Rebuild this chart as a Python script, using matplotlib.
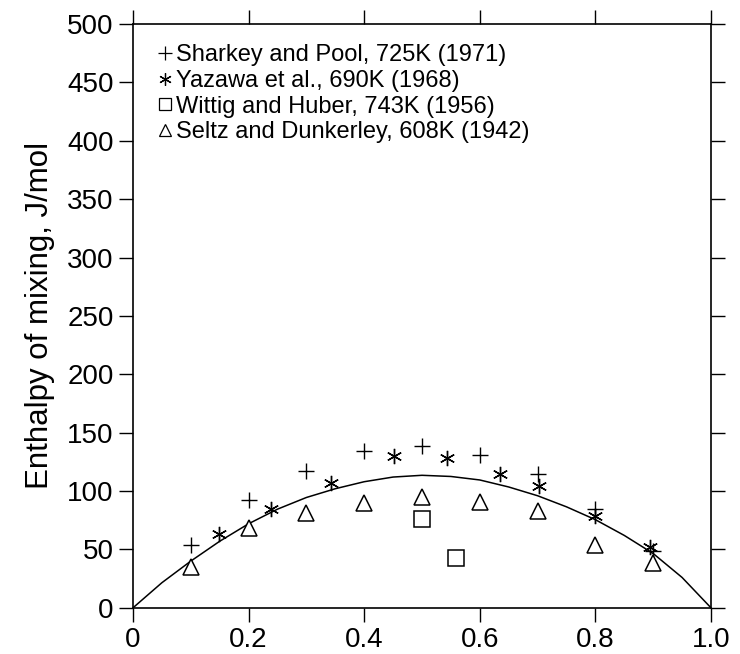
import matplotlib
matplotlib.use("Agg")
import matplotlib.pyplot as plt
from matplotlib.lines import Line2D

plt.rcParams['font.family'] = ['Liberation Sans', 'DejaVu Sans']

# Sharkey and Pool, 725K (1971)
sharkey_x = [0.10, 0.20, 0.30, 0.40, 0.50, 0.60, 0.70, 0.80, 0.90]
sharkey_y = [54, 92, 117, 134, 139, 131, 115, 85, 49]
# Yazawa et al., 690K (1968)
yazawa_x = [0.148, 0.238, 0.342, 0.452, 0.543, 0.635, 0.703, 0.80, 0.894]
yazawa_y = [63, 85, 107, 130, 128, 115, 104, 79, 52]
# Wittig and Huber, 743K (1956)
wittig_x = [0.50, 0.559]
wittig_y = [76, 43]
# Seltz and Dunkerley, 608K (1942)
seltz_x = [0.10, 0.20, 0.30, 0.40, 0.50, 0.60, 0.70, 0.80, 0.90]
seltz_y = [35, 68, 81, 90, 95, 91, 83, 54, 38]
# smooth curve
curve_x = [0.00, 0.05, 0.10, 0.15, 0.20, 0.25, 0.30, 0.35, 0.40, 0.45, 0.50,
           0.55, 0.60, 0.65, 0.70, 0.75, 0.80, 0.85, 0.90, 0.95, 1.00]
curve_y = [0, 21.5, 40, 57, 72, 84.5, 94.5, 102, 108, 112, 113.5,
           112.5, 109.5, 103.5, 96, 86.5, 75.5, 62, 46.5, 26, 0]

labels = ["Sharkey and Pool, 725K (1971)",
          "Yazawa et al., 690K (1968)",
          "Wittig and Huber, 743K (1956)",
          "Seltz and Dunkerley, 608K (1942)"]
xticks = [0, 0.2, 0.4, 0.6, 0.8, 1.0]
xticklabels = ["0", "0.2", "0.4", "0.6", "0.8", "1.0"]
yticks = list(range(0, 501, 50))

fig = plt.figure(figsize=(7.40, 6.54), dpi=100)
ax = fig.add_axes([0.1797, 0.0706, 0.7811, 0.8927])

ax.plot(curve_x, curve_y, color='black', lw=1.1, zorder=2)
ax.plot(sharkey_x, sharkey_y, ls='none', marker='+', ms=11, mew=1.0, color='black', zorder=3)
ax.plot(yazawa_x, yazawa_y, ls='none', marker=(6, 2, 0), ms=11, mew=1.0, color='black', zorder=3)
ax.plot(wittig_x, wittig_y, ls='none', marker='s', ms=11, mew=1.1, mfc='white', color='black', zorder=3)
ax.plot(seltz_x, seltz_y, ls='none', marker='^', ms=12, mew=1.1, mfc='white', color='black', zorder=3)

ax.set_xlim(0, 1.0)
ax.set_ylim(0, 500)
ax.set_xticks(xticks)
ax.set_xticklabels(xticklabels)
ax.set_yticks(yticks)
ax.tick_params(direction='out', length=10, width=1.0, labelsize=20, pad=4,
               top=True, right=True, colors='black')
for s in ax.spines.values():
    s.set_linewidth(1.2)

ax.set_ylabel("Enthalpy of mixing, J/mol", fontsize=22.5, labelpad=9)

handles = [
    Line2D([], [], ls='none', marker='+', ms=10, mew=0.9, color='black'),
    Line2D([], [], ls='none', marker=(6, 2, 0), ms=9, mew=0.9, color='black'),
    Line2D([], [], ls='none', marker='s', ms=8, mew=0.9, mfc='white', color='black'),
    Line2D([], [], ls='none', marker='^', ms=8, mew=0.9, mfc='white', color='black'),
]
ax.legend(handles, labels, loc='upper left', frameon=False, fontsize=17,
          handlelength=0.6, handletextpad=0.13, labelspacing=0.15,
          borderaxespad=0.0, borderpad=0.0, bbox_to_anchor=(0.044, 0.965))

fig.savefig("out.png", dpi=100)
